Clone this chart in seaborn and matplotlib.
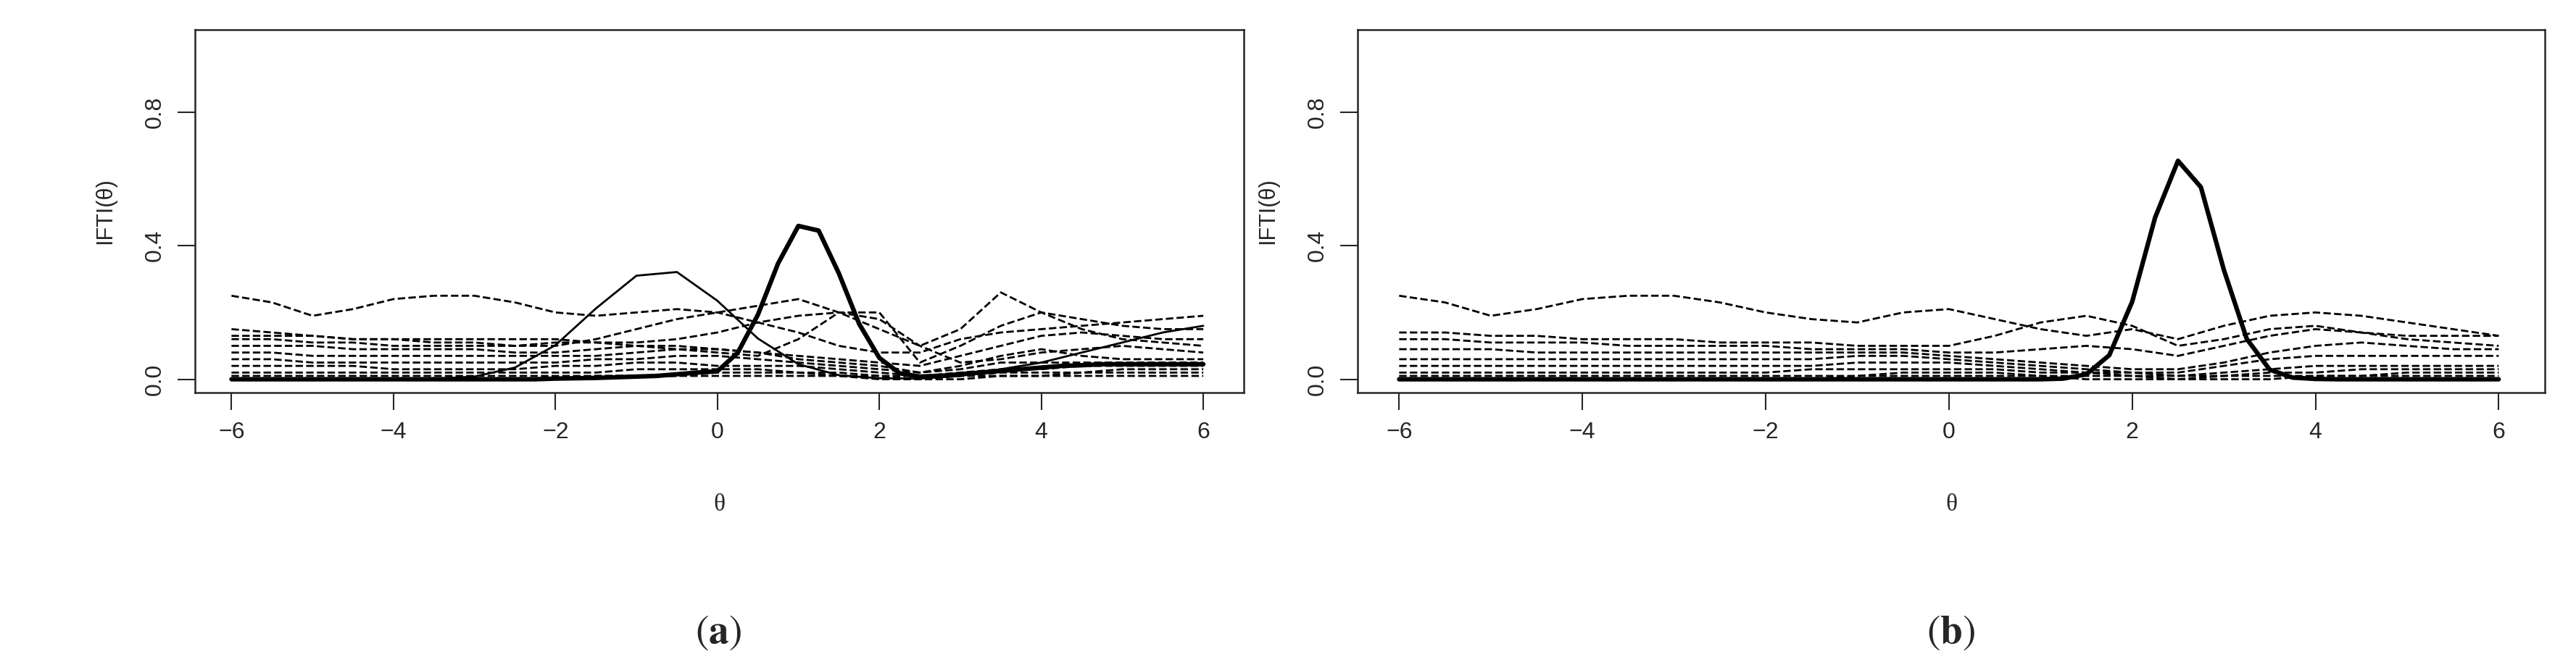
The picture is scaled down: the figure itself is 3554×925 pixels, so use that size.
import numpy as np
import matplotlib
matplotlib.use("Agg")
import matplotlib.pyplot as plt
import seaborn as sns

sns.set_style("ticks")
plt.rcParams['font.family'] = ['Liberation Sans', 'DejaVu Sans']
plt.rcParams['mathtext.fontset'] = 'stix'

# theta grids
theta = np.linspace(-6, 6, 25)      # step 0.5
theta_f = np.linspace(-6, 6, 49)    # step 0.25 (for sharp peaks)

# ---- panel (a) ----
a_thick = [0]*16 + [0.002, 0.003, 0.004, 0.006, 0.008, 0.01, 0.015, 0.02, 0.024,
                    0.079, 0.193, 0.347, 0.459, 0.445, 0.317, 0.166, 0.064, 0.018,
                    0.008, 0.01, 0.015, 0.02, 0.025, 0.03, 0.035, 0.04, 0.042,
                    0.045, 0.045, 0.045, 0.045, 0.045, 0.045]
a_thin = [0, 0, 0, 0, 0.0002, 0.0015, 0.008, 0.035, 0.102, 0.212, 0.31, 0.321, 0.235,
          0.122, 0.045, 0.012, 0.003, 0.002, 0.01, 0.03, 0.05, 0.08, 0.11, 0.14, 0.16]
a_dashed = [
    [0.25, 0.23, 0.19, 0.21, 0.24, 0.25, 0.25, 0.23, 0.20, 0.19, 0.20, 0.21, 0.20,
     0.17, 0.14, 0.10, 0.08, 0.08, 0.12, 0.14, 0.15, 0.16, 0.17, 0.18, 0.19],
    [0.15, 0.14, 0.13, 0.12, 0.12, 0.11, 0.11, 0.10, 0.10, 0.12, 0.15, 0.18, 0.20,
     0.22, 0.24, 0.20, 0.15, 0.10, 0.15, 0.26, 0.20, 0.15, 0.12, 0.11, 0.10],
    [0.13, 0.13, 0.13, 0.12, 0.12, 0.12, 0.12, 0.12, 0.12, 0.11, 0.11, 0.12, 0.14,
     0.17, 0.19, 0.20, 0.20, 0.05, 0.10, 0.16, 0.20, 0.18, 0.16, 0.15, 0.15],
    [0.12, 0.12, 0.11, 0.11, 0.10, 0.10, 0.10, 0.10, 0.11, 0.11, 0.10, 0.10, 0.09,
     0.08, 0.07, 0.06, 0.05, 0.04, 0.07, 0.10, 0.13, 0.14, 0.13, 0.12, 0.12],
    [0.10, 0.10, 0.10, 0.09, 0.09, 0.09, 0.09, 0.08, 0.08, 0.09, 0.10, 0.09, 0.08,
     0.07, 0.12, 0.20, 0.18, 0.10, 0.05, 0.06, 0.08, 0.09, 0.10, 0.09, 0.08],
    [0.08, 0.08, 0.07, 0.07, 0.07, 0.07, 0.07, 0.07, 0.07, 0.07, 0.08, 0.09, 0.09,
     0.08, 0.06, 0.05, 0.04, 0.02, 0.04, 0.07, 0.09, 0.07, 0.06, 0.06, 0.06],
    [0.06, 0.06, 0.05, 0.05, 0.05, 0.05, 0.05, 0.05, 0.05, 0.06, 0.06, 0.07, 0.07,
     0.06, 0.05, 0.04, 0.03, 0.02, 0.03, 0.05, 0.05, 0.05, 0.05, 0.05, 0.05],
    [0.04, 0.04, 0.04, 0.04, 0.03, 0.03, 0.03, 0.03, 0.04, 0.04, 0.05, 0.05, 0.04,
     0.04, 0.04, 0.03, 0.02, 0.01, 0.02, 0.03, 0.03, 0.04, 0.04, 0.04, 0.04],
    [0.02, 0.02, 0.02, 0.02, 0.02, 0.02, 0.02, 0.02, 0.02, 0.02, 0.03, 0.03, 0.03,
     0.03, 0.02, 0.02, 0.01, 0.01, 0.01, 0.02, 0.02, 0.02, 0.03, 0.03, 0.03],
    [0.01, 0.01, 0.01, 0.01, 0.01, 0.01, 0.01, 0.01, 0.01, 0.01, 0.01, 0.01, 0.02,
     0.02, 0.02, 0.01, 0.01, 0.00, 0.01, 0.01, 0.01, 0.02, 0.02, 0.02, 0.02],
    [0.00, 0.00, 0.00, 0.00, 0.00, 0.00, 0.00, 0.00, 0.00, 0.01, 0.01, 0.01, 0.01,
     0.01, 0.01, 0.01, 0.00, 0.00, 0.00, 0.01, 0.01, 0.01, 0.01, 0.01, 0.01],
]

# ---- panel (b) ----
b_thick = [0]*29 + [0.002, 0.015, 0.072, 0.232, 0.484, 0.654, 0.575, 0.328, 0.121,
                    0.029, 0.005, 0.001, 0, 0, 0, 0, 0, 0, 0, 0]
b_dashed = [
    [0.25, 0.23, 0.19, 0.21, 0.24, 0.25, 0.25, 0.23, 0.20, 0.18, 0.17, 0.20, 0.21,
     0.18, 0.15, 0.13, 0.15, 0.12, 0.16, 0.19, 0.20, 0.19, 0.17, 0.15, 0.13],
    [0.14, 0.14, 0.13, 0.13, 0.12, 0.12, 0.12, 0.11, 0.11, 0.11, 0.10, 0.10, 0.10,
     0.13, 0.17, 0.19, 0.16, 0.10, 0.12, 0.15, 0.16, 0.14, 0.12, 0.11, 0.10],
    [0.12, 0.12, 0.11, 0.11, 0.11, 0.10, 0.10, 0.10, 0.10, 0.09, 0.09, 0.09, 0.08,
     0.08, 0.09, 0.10, 0.09, 0.07, 0.10, 0.13, 0.15, 0.14, 0.13, 0.13, 0.13],
    [0.09, 0.09, 0.09, 0.08, 0.08, 0.08, 0.08, 0.08, 0.08, 0.08, 0.08, 0.08, 0.07,
     0.06, 0.05, 0.04, 0.03, 0.03, 0.05, 0.08, 0.10, 0.11, 0.10, 0.09, 0.09],
    [0.06, 0.06, 0.06, 0.06, 0.06, 0.06, 0.06, 0.06, 0.06, 0.06, 0.07, 0.07, 0.06,
     0.05, 0.04, 0.03, 0.02, 0.02, 0.04, 0.06, 0.07, 0.07, 0.07, 0.07, 0.07],
    [0.04, 0.04, 0.04, 0.04, 0.04, 0.04, 0.04, 0.04, 0.04, 0.04, 0.05, 0.05, 0.05,
     0.04, 0.03, 0.02, 0.02, 0.01, 0.02, 0.03, 0.04, 0.04, 0.04, 0.04, 0.04],
    [0.02, 0.02, 0.02, 0.02, 0.02, 0.02, 0.02, 0.02, 0.02, 0.03, 0.03, 0.03, 0.03,
     0.03, 0.02, 0.02, 0.01, 0.01, 0.01, 0.02, 0.02, 0.03, 0.03, 0.03, 0.03],
    [0.01, 0.01, 0.01, 0.01, 0.01, 0.01, 0.01, 0.01, 0.01, 0.01, 0.01, 0.02, 0.02,
     0.02, 0.01, 0.01, 0.01, 0.00, 0.01, 0.01, 0.01, 0.01, 0.02, 0.02, 0.02],
    [0.00, 0.00, 0.00, 0.00, 0.00, 0.00, 0.00, 0.00, 0.00, 0.00, 0.01, 0.01, 0.01,
     0.01, 0.01, 0.00, 0.00, 0.00, 0.00, 0.00, 0.01, 0.01, 0.01, 0.01, 0.01],
]

fig = plt.figure(figsize=(35.55, 9.25), dpi=100)
ax_a = fig.add_axes([0.0757, 0.414, 0.407, 0.542])
ax_b = fig.add_axes([0.527, 0.414, 0.4605, 0.542])

def style(ax):
    ax.set_xlim(-6.45, 6.5)
    ax.set_ylim(-0.04, 1.047)
    ax.set_xticks([-6, -4, -2, 0, 2, 4, 6])
    ax.set_xticklabels(["\u22126", "\u22124", "\u22122", "0", "2", "4", "6"])
    ax.set_yticks([0.0, 0.4, 0.8])
    ax.set_yticklabels(["0.0", "0.4", "0.8"], rotation=90, va="center")
    ax.tick_params(labelsize=23, length=17, width=1.5, direction="out", pad=12)
    for s in ax.spines.values():
        s.set_linewidth(1.8)
    ax.set_xlabel("\u03b8", fontsize=24, labelpad=50,
                  family=["Liberation Serif", "DejaVu Serif"])
    ax.set_ylabel("IFTI(\u03b8)", fontsize=22, labelpad=28)

for d in a_dashed:
    sns.lineplot(x=theta, y=d, ax=ax_a, color="black", lw=2, linestyle="--", estimator=None)
sns.lineplot(x=theta, y=a_thin, ax=ax_a, color="black", lw=2, estimator=None)
sns.lineplot(x=theta_f, y=a_thick, ax=ax_a, color="black", lw=4.5, estimator=None)

for d in b_dashed:
    sns.lineplot(x=theta, y=d, ax=ax_b, color="black", lw=2, linestyle="--", estimator=None)
sns.lineplot(x=theta_f, y=b_thick, ax=ax_b, color="black", lw=4.5, estimator=None)

style(ax_a)
style(ax_b)

fig.text(0.2788, 0.04, r"$(\mathbf{a})$", fontsize=40, ha="center")
fig.text(0.7570, 0.04, r"$(\mathbf{b})$", fontsize=40, ha="center")

fig.savefig("out.png", dpi=100)
